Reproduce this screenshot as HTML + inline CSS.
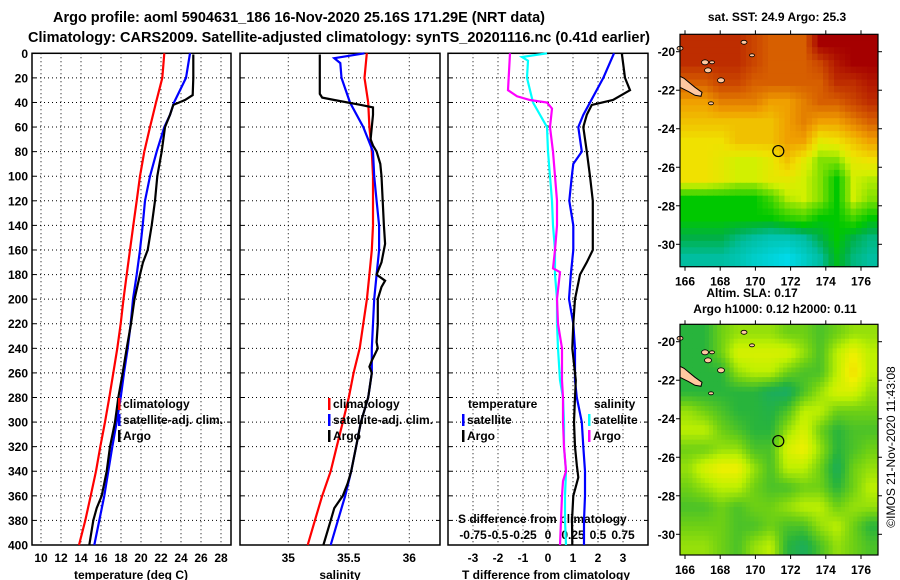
<!DOCTYPE html>
<html><head><meta charset="utf-8"><style>
html,body{margin:0;padding:0;background:#fff;}
svg{display:block;font-family:"Liberation Sans",Arial,sans-serif;font-weight:bold;}
</style></head><body>
<svg id="chart" width="900" height="580" viewBox="0 0 900 580" xmlns="http://www.w3.org/2000/svg">
<text x="53" y="22" font-size="14.5" textLength="492">Argo profile: aoml 5904631_186 16-Nov-2020 25.16S 171.29E (NRT data)</text>
<text x="28" y="42" font-size="14.5" textLength="622">Climatology: CARS2009. Satellite-adjusted climatology: synTS_20201116.nc (0.41d earlier)</text>
<g id="panels"></g>
<g id="maps"></g>
<text x="777" y="21" font-size="12" text-anchor="middle">sat. SST: 24.9 Argo: 25.3</text>
<text x="752" y="297" font-size="12" text-anchor="middle">Altim. SLA: 0.17</text>
<text x="775" y="313" font-size="12" text-anchor="middle">Argo h1000: 0.12 h2000: 0.11</text>
<text x="0" y="0" font-size="12" font-weight="normal" text-anchor="middle" transform="translate(895,447) rotate(-90)">©IMOS 21-Nov-2020 11:43:08</text>
</svg>
<script>
// ---- data ----
const depthTicks=[0,20,40,60,80,100,120,140,160,180,200,220,240,260,280,300,320,340,360,380,400];
const tempTicks=[10,12,14,16,18,20,22,24,26,28];
const salTicks=[35,35.5,36];
const tdiffTicks=[-3,-2,-1,0,1,2,3];
const sdiffTicks=[-0.75,-0.5,-0.25,0,0.25,0.5,0.75];

const climTD=[0,20,40,60,80,100,120,140,160,180,200,220,240,260,280,300,320,340,360,380,400];
const climT=[22.33,22.13,21.5,20.9,20.33,19.9,19.57,19.23,18.9,18.57,18.25,17.97,17.63,17.23,16.83,16.4,15.93,15.5,14.97,14.43,13.8];
const satTD=[0,20,40,50,60,80,100,120,140,160,180,200,220,240,260,280,300,320,340,360,380,400];
const satT=[24.9,24.5,23.3,22.9,22.33,21.57,20.9,20.4,20.17,19.9,19.57,19.2,18.97,18.67,18.3,17.97,17.57,17.13,16.73,16.33,15.83,15.33];
const argoTD=[1,20,34,38,42,50,60,80,100,120,140,160,170,180,200,220,240,260,280,300,320,340,360,370,380,400];
const argoT=[25.23,25.23,25.17,24.4,23.23,22.9,22.4,22.07,21.63,21.4,21.07,20.67,20.2,19.9,19.35,19.0,18.57,18.17,17.73,17.4,16.9,16.57,16.07,15.57,15.23,14.83];

const climSD=[0,20,40,60,80,100,140,160,180,200,220,240,260,280,300,320,340,360,380,400];
const climS=[35.649,35.63,35.66,35.67,35.69,35.70,35.70,35.69,35.67,35.65,35.62,35.59,35.54,35.50,35.45,35.40,35.35,35.28,35.22,35.16];
const satSD=[0,4,8,20,40,60,80,100,120,140,160,180,200,220,240,260,280,300,320,340,360,380,400];
const satS=[35.63,35.38,35.43,35.44,35.51,35.62,35.70,35.71,35.73,35.75,35.75,35.73,35.71,35.70,35.69,35.69,35.66,35.60,35.56,35.52,35.47,35.41,35.35];
const argoSD=[1,33,36,38,42,44,50,60,70,75,80,90,100,120,140,155,160,170,180,185,190,200,220,235,240,250,255,260,280,300,320,340,350,360,370,380,400];
const argoS=[35.26,35.26,35.28,35.38,35.60,35.70,35.70,35.69,35.68,35.70,35.73,35.76,35.77,35.78,35.79,35.80,35.79,35.77,35.73,35.80,35.77,35.74,35.74,35.73,35.74,35.69,35.67,35.69,35.66,35.60,35.56,35.52,35.49,35.45,35.38,35.35,35.29];

const dTD=[0,20,40,50,60,80,90,100,120,140,160,180,200,220,240,266,280,300,320,340,360,380,400];
const dTsat=[2.64,2.21,1.68,1.41,1.21,1.35,1.01,0.95,0.85,1.01,1.01,0.91,0.84,1.01,1.08,1.08,1.15,1.35,1.41,1.48,1.48,1.44,1.44];
const dTAD=[0,20,30,38,42,50,60,80,100,120,160,170,180,200,220,240,266,280,300,320,335,345,355,360,380,400];
const dTargo=[2.95,3.08,3.28,2.6,1.75,1.55,1.41,1.55,1.68,1.79,1.79,1.55,1.28,1.08,1.01,0.97,1.11,1.08,1.04,1.08,1.15,1.21,1.08,1.01,0.96,0.97];
const dSAD=[0,30,35,38,40,45,60,80,100,120,140,160,175,178,200,220,240,266,280,300,320,340,348,360,380,400];
const dSargo=[-0.38,-0.40,-0.31,-0.18,-0.01,0.04,0.02,0.05,0.07,0.09,0.09,0.07,0.05,0.12,0.09,0.10,0.14,0.14,0.15,0.15,0.16,0.18,0.15,0.14,0.13,0.12];
const dSSD=[0,3,6,20,40,60,80,100,120,140,160,180,200,220,240,266,280,300,320,340,360,380,400];
const dSsat=[-0.01,-0.26,-0.20,-0.21,-0.15,-0.01,0.00,0.02,0.04,0.05,0.07,0.07,0.09,0.09,0.10,0.12,0.15,0.16,0.16,0.18,0.17,0.17,0.18];

const lonTicks=[166,168,170,172,174,176];
const latTicks=[-20,-22,-24,-26,-28,-30];
const sstGrid=[
[7,7,7,7,6.5,6,6,6,8,8,8,8],
[7,7,7,7,6.5,6,6,6,6.5,7.5,8,8],
[6,6,6.5,6.5,6,6,6,6,6,7,7,7.5],
[5,5,5.5,5.5,5.5,5,5,5.5,6,6,6.5,7],
[4.5,4.5,4.5,4.5,4.5,4.5,5,5.5,5,5,5.5,6],
[4,4,4,4.5,4.5,4.5,5,5,3.8,4,4.5,5],
[4,4,3.8,3.5,3.5,3.8,4.5,3.8,3,3,3.8,4],
[4,4,3.8,3.5,3.5,3.8,3.8,3.5,3,2,3.5,3.3],
[2,2,2,2,2,2.5,3.3,3.5,3,2,3.5,3],
[2,2,2,2,2,2,2.3,2.5,2,2,2.5,2],
[1.5,1.5,1.5,1.2,1,0.8,0.8,1,1.5,2,1.5,1.2],
[1,1,1,0.8,0.5,0.3,0.1,0.5,1,1.8,1.2,1]];
const slaGrid=[
[1,1,2,2.5,2.5,2.5,2,2,1.5,2,2.5,2.5],
[1,1,2,3.5,3.5,3.5,3.5,2.5,1.5,3,4,3],
[1,1,1,2.5,3,3,2,1.5,1.5,3,4.5,3],
[1,1,1,1,1,0.5,0.3,1.5,2.5,3.5,3.5,2.5],
[2.5,2,1.5,1,1,0.8,1.5,3,3,2,2,2],
[3,3,2,1.5,1,1,2.5,3.5,2,1,1.5,1.5],
[2,2,2.5,2.5,1.5,1.5,3.5,4,2.5,1,1.5,2],
[2.5,3.5,4,4,2.5,1.5,3,3,2,0.5,2,2.5],
[2,2.5,3,3,2,1.5,1.5,2,2,1,2,3],
[1.5,1.5,2,1.5,2,2,2.5,3,3,2,2.5,2.5],
[2,2,2,1.5,1.5,2,1.5,1.5,2.5,3,2,1],
[2.5,2.5,2,1.5,2.5,3,1,0.5,1.5,2.5,2,1.5]];

// ---- drawing ----
const NS='http://www.w3.org/2000/svg';
function mk(tag,attrs,parent){const e=document.createElementNS(NS,tag);for(const k in attrs)e.setAttribute(k,attrs[k]);parent.appendChild(e);return e;}
const P=document.getElementById('panels');
const yTop=53.3,yBot=545;
const yD=d=>yTop+(yBot-yTop)*d/400;
const xT=t=>41+(t-10)*10;
const xS=s=>288.3+(s-35)*121;
const xdT=t=>548+t*25;
const xdS=s=>548+s*100;

const panels=[{x0:32,x1:231,name:'temperature-panel'},{x0:240,x1:440,name:'salinity-panel'},{x0:448,x1:648,name:'difference-panel'}];
panels.forEach((p,pi)=>{
  const g=mk('g',{},P);
  
  
  depthTicks.forEach(d=>{
    const y=yD(d);
    if(d>0&&d<400){const l=mk('line',{x1:p.x0,x2:p.x1,y1:y,y2:y,stroke:'#000','stroke-width':1,'stroke-dasharray':'1 3'},g);
      
      }
    mk('line',{x1:p.x0,x2:p.x0+4,y1:y,y2:y,stroke:'#000'},g);
    mk('line',{x1:p.x1,x2:p.x1-4,y1:y,y2:y,stroke:'#000'},g);
  });
  let ticks,fx;
  if(pi==0){ticks=tempTicks;fx=xT;}else if(pi==1){ticks=salTicks;fx=xS;}else{ticks=tdiffTicks;fx=xdT;}
  ticks.forEach(t=>{const x=fx(t);
    const l=mk('line',{x1:x,x2:x,y1:yTop,y2:yBot,stroke:'#000','stroke-width':1,'stroke-dasharray':'1 3'},g);
    
    
    const tx=mk('text',{x:x,y:562,'font-size':12,'text-anchor':'middle'},g);tx.textContent=String(t);
    
    
  });
  const r=mk('rect',{x:p.x0,y:yTop,width:p.x1-p.x0,height:yBot-yTop,fill:'none',stroke:'#000','stroke-width':1.5},g);
  
  
});
depthTicks.forEach(d=>{const t=mk('text',{x:28,y:yD(d)+4.5,'font-size':12,'text-anchor':'end'},P);t.textContent=String(d);
  
  });
[['temperature (deg C)',131,'temperature-axis-title'],['salinity',340,'salinity-axis-title'],['T difference from climatology',546,'tdiff-axis-title']].forEach(a=>{
  const t=mk('text',{x:a[1],y:579,'font-size':12,'text-anchor':'middle'},P);t.textContent=a[0];
  
  });
const sdt=mk('text',{x:458,y:523,'font-size':12},P);sdt.textContent='S difference from climatology';


sdiffTicks.forEach(s=>{const t=mk('text',{x:xdS(s),y:539,'font-size':12,'text-anchor':'middle'},P);t.textContent=String(s);
  
  });

function line(ds,vs,fx,color,name){
  const pts=ds.map((d,i)=>fx(vs[i]).toFixed(1)+','+yD(d).toFixed(1)).join(' ');
  const pl=mk('polyline',{points:pts,fill:'none',stroke:color,'stroke-width':2.2,'stroke-linejoin':'miter'},P);
  
  
}
line(climTD,climT,xT,'#f00','climatology-temperature-line');
line(satTD,satT,xT,'#00f','satellite-temperature-line');
line(argoTD,argoT,xT,'#000','argo-temperature-line');
line(climSD,climS,xS,'#f00','climatology-salinity-line');
line(satSD,satS,xS,'#00f','satellite-salinity-line');
line(argoSD,argoS,xS,'#000','argo-salinity-line');
line(dSSD,dSsat,xdS,'#0ff','satellite-salinity-diff-line');
line(dSAD,dSargo,xdS,'#f0f','argo-salinity-diff-line');
line(dTD,dTsat,xdT,'#00f','satellite-temperature-diff-line');
line(dTAD,dTargo,xdT,'#000','argo-temperature-diff-line');

function legend(x,y,color,label,name){
  const g=mk('g',{},P);
  
  
  if(color) mk('rect',{x:x,y:y-10,width:2.5,height:12,fill:color},g);
  const t=mk('text',{x:x+(color?5:0),y:y,'font-size':12},g);t.textContent=label;
}
legend(118,408,'#f00','climatology','legend-climatology');
legend(118,424,'#00f','satellite-adj. clim.','legend-satellite-adj');
legend(118,440,'#000','Argo','legend-argo');
legend(328,408,'#f00','climatology','legend-sal-climatology');
legend(328,424,'#00f','satellite-adj. clim.','legend-sal-satellite-adj');
legend(328,440,'#000','Argo','legend-sal-argo');
legend(468,408,null,'temperature','legend-temperature-header');
legend(462,424,'#00f','satellite','legend-tdiff-satellite');
legend(462,440,'#000','Argo','legend-tdiff-argo');
legend(594,408,null,'salinity','legend-salinity-header');
legend(588,424,'#0ff','satellite','legend-sdiff-satellite');
legend(588,440,'#f0f','Argo','legend-sdiff-argo');

// ---- maps ----
const M=document.getElementById('maps');
function sstColor(v){
  const stops=[[0,[0,220,240]],[1,[0,190,160]],[1.5,[0,176,70]],[2,[0,200,0]],[3,[130,225,0]],[3.5,[210,240,0]],[4,[240,225,0]],[5,[240,160,0]],[6,[215,95,0]],[7,[190,45,0]],[8,[165,0,0]]];
  return interp(stops,v);}
function slaColor(v){
  const stops=[[0,[16,168,120]],[1,[40,180,60]],[2,[110,208,20]],[3,[190,240,0]],[4,[240,240,0]],[5,[240,200,0]]];
  return interp(stops,v);}
function interp(stops,v){
  for(let i=0;i<stops.length-1;i++){const a=stops[i],b=stops[i+1];
    if(v<=b[0]){const f=Math.max(0,(v-a[0])/(b[0]-a[0]));
      return 'rgb('+a[1].map((c,k)=>Math.round(c+(b[1][k]-c)*f)).join(',')+')';}}
  return 'rgb('+stops[stops.length-1][1].join(',')+')';}
function sample(grid,fr,fc){
  const R=grid.length,C=grid[0].length;
  let r=Math.min(Math.max(fr-0.5,0),R-1),c=Math.min(Math.max(fc-0.5,0),C-1);
  const r0=Math.floor(r),c0=Math.floor(c),r1=Math.min(r0+1,R-1),c1=Math.min(c0+1,C-1);
  const a=r-r0,b=c-c0;
  return grid[r0][c0]*(1-a)*(1-b)+grid[r0][c1]*(1-a)*b+grid[r1][c0]*a*(1-b)+grid[r1][c1]*a*b;
}

function drawMap(y0,y1,grid,colfn,name,lat20,lat30,sub){
  const x0=680,x1=878;
  const g=mk('g',{},M);
  
  
  const rows=grid.length*sub,cols=grid[0].length*sub;
  const cw=(x1-x0)/cols,ch=(y1-y0)/rows;
  for(let r=0;r<rows;r++)for(let c=0;c<cols;c++){
    const v=sample(grid,(r+0.5)/sub,(c+0.5)/sub);
    const cell=mk('rect',{x:(x0+c*cw).toFixed(2),y:(y0+r*ch).toFixed(2),width:(cw+0.5).toFixed(2),height:(ch+0.5).toFixed(2),fill:colfn(v)},g);
    
    
  }
  const lonX=l=>685+(l-166)*17.6;
  const latY=l=>lat20+(l+20)/(-10)*(lat30-lat20);
  const isl=mk('polygon',{points:[[680,76+y0-34],[684,78+y0-34],[695,87+y0-34],[702,92+y0-34],[701,96+y0-34],[695,95+y0-34],[688,91+y0-34],[680,87+y0-34]].map(p=>p.join(',')).join(' '),fill:'#ffc8a0',stroke:'#000','stroke-width':1},g);
  
  
  [[705,62,2.5],[708,70,2.5],[721,80,2.5],[744,42,2],[752,55,1.5],[712,62,1.5],[711,103,1.5],[680,48,2]].forEach(p=>{
    const c=mk('ellipse',{cx:p[0],cy:p[1]+y0-34,rx:p[2]+1,ry:p[2],fill:'#ffc8a0',stroke:'#000','stroke-width':0.8},g);
    
    
  });
  const fr=mk('rect',{x:x0,y:y0,width:x1-x0,height:y1-y0,fill:'none',stroke:'#000','stroke-width':1.2},g);
  
  
  const circ=mk('circle',{cx:778.3,cy:latY(-25.16),r:5.5,fill:'none',stroke:'#000','stroke-width':1.2},g);
  
  
  lonTicks.forEach(l=>{const x=lonX(l);
    mk('line',{x1:x,x2:x,y1:y0,y2:y0-4,stroke:'#000'},g);
    mk('line',{x1:x,x2:x,y1:y1,y2:y1+4,stroke:'#000'},g);
    const t=mk('text',{x:x,y:y1+19,'font-size':12,'text-anchor':'middle'},g);t.textContent=String(l);
    
    });
  latTicks.forEach(l=>{const y=latY(l);
    mk('line',{x1:x0,x2:x0-4,y1:y,y2:y,stroke:'#000'},g);
    mk('line',{x1:x1,x2:x1+4,y1:y,y2:y,stroke:'#000'},g);
    const t=mk('text',{x:x0-5,y:y+4.5,'font-size':12,'text-anchor':'end'},g);t.textContent=String(l);
    
    });
}
drawMap(34.3,266.7,sstGrid,sstColor,'sst-map',51.7,244.3,3);
drawMap(324.3,555,slaGrid,slaColor,'sla-map',341.7,534.3,4);
</script>
</body></html>
